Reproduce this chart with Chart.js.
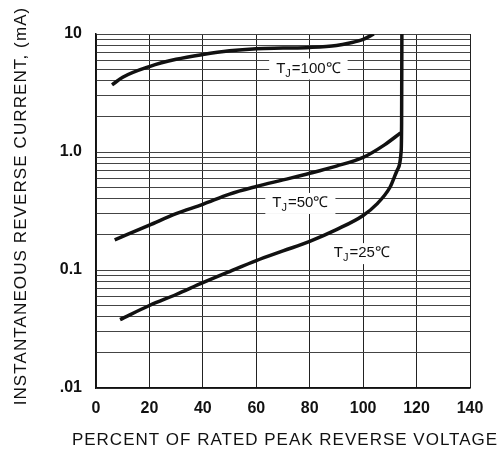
<!DOCTYPE html>
<html>
<head>
<meta charset="utf-8">
<script src="https://cdn.jsdelivr.net/npm/chart.js@4.4.0/dist/chart.umd.min.js"></script>
<style>
  html, body { margin: 0; padding: 0; background: #fff; }
  #wrap { width: 502px; height: 450px; }
</style>
</head>
<body>
<div id="wrap"><canvas id="graph" width="502" height="450"></canvas></div>
<script>
'use strict'

// curves (x = % of rated voltage, y = mA)
let x100 = [6, 10, 20, 30, 40, 50, 60, 70, 80, 90, 95, 100, 104];
let y100 = [3.7, 4.3, 5.3, 6.1, 6.7, 7.2, 7.5, 7.6, 7.7, 8.0, 8.4, 9.0, 10];

let x50 = [7, 20, 30, 40, 50, 60, 70, 80, 90, 100, 108, 114];
let y50 = [0.18, 0.24, 0.3, 0.36, 0.44, 0.51, 0.58, 0.66, 0.76, 0.9, 1.15, 1.45];

let x25 = [9, 20, 30, 40, 50, 60, 70, 80, 90, 100, 105, 110, 113, 114.2, 114.4, 114.5];
let y25 = [0.038, 0.05, 0.062, 0.078, 0.097, 0.12, 0.145, 0.175, 0.22, 0.29, 0.36, 0.5, 0.72, 1.0, 1.8, 10];

let xTicks = [0, 20, 40, 60, 80, 100, 120, 140];
let yTicks = [0.01, 0.02, 0.03, 0.04, 0.05, 0.06, 0.07, 0.08, 0.09,
              0.1, 0.2, 0.3, 0.4, 0.5, 0.6, 0.7, 0.8, 0.9,
              1, 2, 3, 4, 5, 6, 7, 8, 9, 10];
let yLabels = {0.01: '.01', 0.1: '0.1', 1: '1.0', 10: '10'};

let xTitle = 'PERCENT OF RATED PEAK REVERSE VOLTAGE';
let yTitle = 'INSTANTANEOUS REVERSE CURRENT, (mA)';

let curveLabels = [
    {temp: '100℃', x: 79.5, y: 5.1},
    {temp: '50℃', x: 76.5, y: 0.37},
    {temp: '25℃', x: 99.5, y: 0.139}
];

function pts(xs, ys) {
    return xs.map((v, i) => ({x: v, y: ys[i]}));
}

function curve(xs, ys) {
    return {
        data: pts(xs, ys),
        borderColor: '#111',
        borderWidth: 3.5,
        pointRadius: 0,
        fill: false,
        cubicInterpolationMode: 'monotone'
    };
}

const font = "'Liberation Sans', Arial, sans-serif";

// T_J labels with white boxes behind them
const tempLabels = {
    id: 'tempLabels',
    afterDatasetsDraw(chart) {
        let ctx = chart.ctx;
        let xs = chart.scales.x, ys = chart.scales.y;
        ctx.save();
        ctx.textBaseline = 'middle';
        for (let lb of curveLabels) {
            let cx = xs.getPixelForValue(lb.x);
            let cy = ys.getPixelForValue(lb.y);
            ctx.font = '15px ' + font;
            let wT = ctx.measureText('T').width;
            ctx.font = '11px ' + font;
            let wJ = ctx.measureText('J').width;
            ctx.font = '15px ' + font;
            let rest = '=' + lb.temp;
            let wR = ctx.measureText(rest).width;
            let w = wT + wJ + 1 + wR;
            ctx.fillStyle = '#fff';
            ctx.fillRect(cx - w / 2 - 7, cy - 10, w + 14, 21);
            ctx.fillStyle = '#111';
            let x0 = cx - w / 2;
            ctx.fillText('T', x0, cy);
            ctx.font = '11px ' + font;
            ctx.fillText('J', x0 + wT, cy + 5);
            ctx.font = '15px ' + font;
            ctx.fillText(rest, x0 + wT + wJ + 1, cy);
        }
        ctx.restore();
    }
};

// axis titles, drawn by hand to get the wide letter spacing
const axisTitles = {
    id: 'axisTitles',
    afterDraw(chart) {
        let ctx = chart.ctx;
        ctx.save();
        ctx.fillStyle = '#111';
        ctx.textAlign = 'center';
        ctx.textBaseline = 'middle';
        ctx.font = '17px ' + font;
        ctx.letterSpacing = '1px';
        ctx.fillText(xTitle, 285, 440);
        ctx.translate(21, 206);
        ctx.rotate(-Math.PI / 2);
        ctx.letterSpacing = '1.1px';
        ctx.fillText(yTitle, 0, 0);
        ctx.restore();
    }
};

new Chart('graph', {
    type: 'line',
    data: {
        datasets: [curve(x100, y100), curve(x50, y50), curve(x25, y25)]
    },
    options: {
        responsive: false,
        animation: false,
        layout: {padding: {top: 34, right: 32, left: 0, bottom: 0}},
        plugins: {legend: {display: false}, tooltip: {enabled: false}},
        scales: {
            x: {
                type: 'linear',
                min: 0,
                max: 140,
                afterBuildTicks: s => { s.ticks = xTicks.map(v => ({value: v})); },
                afterFit: s => { s.height = 62; },
                grid: {color: '#222', lineWidth: 1, drawTicks: false},
                border: {color: '#111', width: 1.5},
                ticks: {
                    color: '#111',
                    padding: 11,
                    maxRotation: 0,
                    font: {family: font, size: 16, weight: 'bold'}
                }
            },
            y: {
                type: 'logarithmic',
                min: 0.01,
                max: 10,
                afterBuildTicks: s => { s.ticks = yTicks.map(v => ({value: v})); },
                afterFit: s => { s.width = 96; },
                grid: {color: '#444', lineWidth: 1, drawTicks: false},
                border: {color: '#111', width: 1.5},
                ticks: {
                    color: '#111',
                    padding: 14,
                    autoSkip: false,
                    font: {family: font, size: 16, weight: 'bold'},
                    callback: v => yLabels[v] || ''
                }
            }
        }
    },
    plugins: [tempLabels, axisTitles]
});
</script>
</body>
</html>
